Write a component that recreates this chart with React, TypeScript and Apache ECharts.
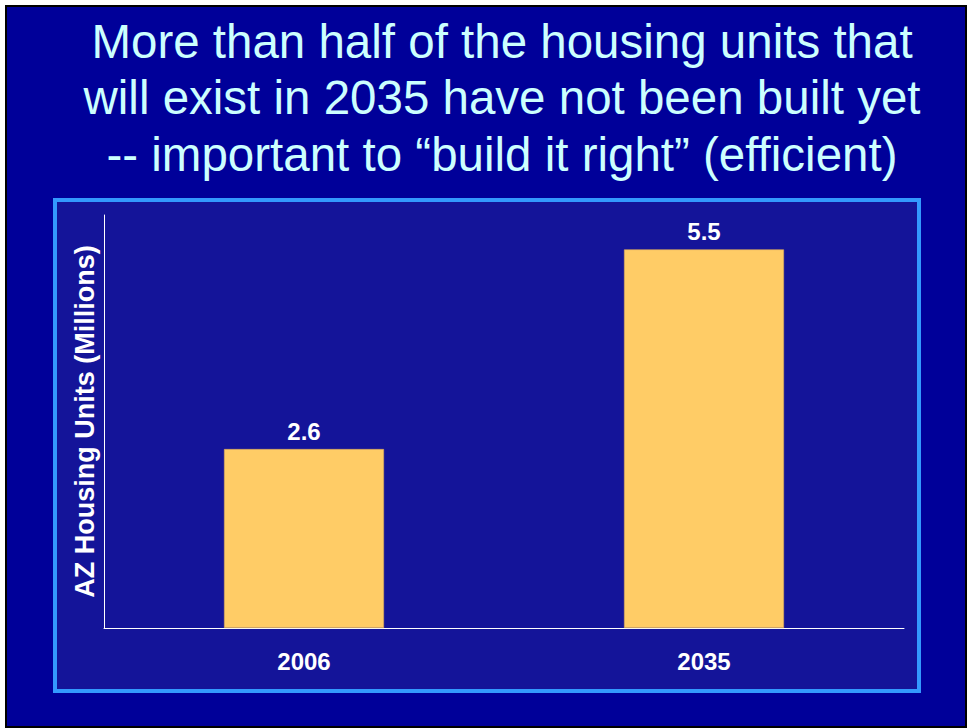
import React, { useEffect, useRef } from "react";
import * as echarts from "echarts";

const categories = ["2006", "2035"];
const housingUnits = [2.6, 5.5];
const titleLines = [
  "More than half of the housing units that",
  "will exist in 2035 have not been built yet",
  "-- important to \u201cbuild it right\u201d (efficient)",
];
const yAxisName = "AZ Housing Units (Millions)";

export default function App() {
  const ref = useRef<HTMLDivElement>(null);
  useEffect(() => {
    if (!ref.current) return;
    const chart = echarts.init(ref.current, null, { renderer: "svg" });
    const titleMiddles = [41, 97.5, 154];
    chart.setOption({
      animation: false,
      backgroundColor: "#FFFFFF",
      graphic: [
        {
          type: "rect",
          z: -20,
          silent: true,
          shape: { x: 6, y: 6, width: 960, height: 721 },
          style: { fill: "#000099", stroke: "#000000", lineWidth: 2 },
        },
        {
          type: "rect",
          z: -19,
          silent: true,
          shape: { x: 55, y: 200, width: 864, height: 491 },
          style: { fill: "#141499", stroke: "#3399FF", lineWidth: 4 },
        },
        ...titleLines.map((t, i) => ({
          type: "text",
          z: 10,
          x: 502,
          y: titleMiddles[i],
          style: {
            text: t,
            fill: "#CCFFFF",
            font: "47.5px 'Liberation Sans', Arial, sans-serif",
            textAlign: "center",
            textVerticalAlign: "middle",
          },
        })),
      ],
      grid: { left: 104, right: 63, top: 215, bottom: 100, containLabel: false },
      xAxis: {
        type: "category",
        data: categories,
        axisLine: { show: true, lineStyle: { color: "#FFFFFF", width: 1 } },
        axisTick: { show: false },
        axisLabel: {
          color: "#FFFFFF",
          fontFamily: "'Liberation Sans', Arial, sans-serif",
          fontWeight: "bold",
          fontSize: 24,
          margin: 21,
        },
      },
      yAxis: {
        type: "value",
        min: 0,
        max: 6,
        interval: 1,
        name: yAxisName,
        nameLocation: "middle",
        nameGap: 6,
        nameTextStyle: {
          color: "#FFFFFF",
          fontFamily: "'Liberation Sans', Arial, sans-serif",
          fontWeight: "bold",
          fontSize: 27,
        },
        axisLine: { show: true, lineStyle: { color: "#FFFFFF", width: 1 } },
        axisTick: { show: false },
        axisLabel: { show: false },
        splitLine: { show: false },
      },
      series: [
        {
          type: "bar",
          data: housingUnits,
          barWidth: "40%",
          itemStyle: { color: "#FFCC66", borderColor: "#D9A85A", borderWidth: 0.6 },
          label: {
            show: true,
            position: "top",
            distance: 6,
            color: "#FFFFFF",
            fontFamily: "'Liberation Sans', Arial, sans-serif",
            fontWeight: "bold",
            fontSize: 24,
          },
        },
      ],
    });
    return () => chart.dispose();
  }, []);
  return (
    <div
      ref={ref}
      style={{ position: "fixed", left: 0, top: 0, width: 967, height: 728 }}
    />
  );
}
